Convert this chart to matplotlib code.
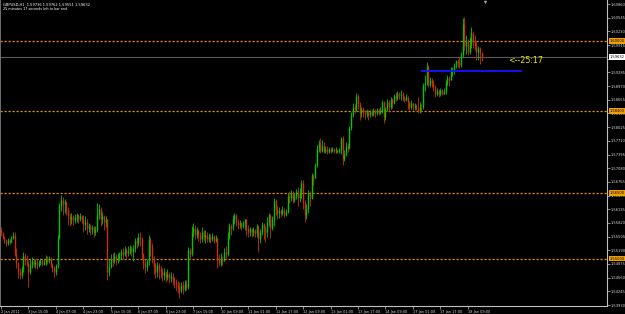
import matplotlib
matplotlib.use('Agg')
import matplotlib.pyplot as plt
import numpy as np

# GBPUSD H1, 2 Jan - 18 Jan 2011, prices in pips above 1.5000
base = 1.5
first_open = 566
close_pips = [558, 548, 540, 536, 542, 538, 548, 555, 510, 490, 470, 462, 478, 505, 498, 490, 470, 485, 495, 488,
              492, 485, 490, 496, 488, 493, 500, 495, 500, 486, 478, 470, 485, 548, 620, 635, 625, 630, 612, 598,
              590, 595, 588, 596, 600, 592, 598, 590, 580, 585, 570, 575, 568, 572, 560, 565, 600, 615, 590, 598,
              585, 592, 470, 480, 500, 495, 505, 498, 502, 508, 515, 510, 520, 512, 518, 525, 515, 525, 540, 535,
              550, 545, 510, 490, 480, 495, 545, 530, 500, 480, 470, 485, 475, 470, 462, 468, 458, 465, 455, 460,
              450, 445, 440, 432, 425, 438, 430, 442, 435, 520, 510, 560, 570, 555, 565, 555, 545, 560, 550, 555,
              545, 550, 545, 552, 540, 548, 500, 490, 500, 495, 515, 510, 550, 575, 570, 590, 600, 585, 578, 582,
              575, 580, 590, 570, 560, 568, 560, 565, 558, 575, 545, 560, 580, 570, 560, 585, 600, 570, 590, 632,
              615, 605, 610, 605, 612, 600, 608, 645, 640, 650, 635, 645, 655, 640, 650, 675, 630, 600, 615, 650,
              640, 690, 685, 715, 755, 765, 748, 760, 748, 752, 745, 752, 748, 753, 747, 750, 746, 749, 778, 730,
              740, 760, 755, 800, 830, 850, 845, 875, 855, 835, 845, 838, 832, 840, 830, 838, 832, 840, 835, 842,
              836, 840, 860, 825, 845, 860, 850, 868, 858, 875, 870, 880, 876, 880, 870, 865, 872, 860, 850, 858,
              848, 852, 845, 840, 850, 848, 900, 905, 940, 900, 910, 905, 895, 880, 885, 878, 888, 880, 886, 905,
              915, 910, 930, 935, 945, 955, 950, 945, 968, 1040, 990, 1000, 975, 995, 1020, 1000, 990, 975, 985, 974,
              963]
high_pips = [572, 562, 552, 545, 547, 546, 552, 560, 560, 525, 492, 478, 482, 515, 512, 508, 495, 500, 503, 500,
             500, 498, 497, 502, 500, 500, 508, 506, 506, 503, 490, 482, 488, 555, 628, 647, 642, 638, 632, 618,
             605, 605, 600, 602, 605, 603, 604, 600, 600, 598, 590, 582, 580, 578, 575, 575, 628, 625, 618, 607,
             600, 598, 592, 500, 510, 512, 515, 510, 512, 515, 522, 525, 528, 525, 530, 532, 530, 532, 548, 550,
             558, 561, 550, 512, 498, 500, 555, 550, 535, 505, 490, 492, 490, 482, 478, 478, 472, 475, 470, 468,
             466, 458, 452, 448, 445, 445, 448, 450, 450, 527, 525, 575, 582, 578, 572, 568, 560, 572, 565, 565,
             560, 558, 556, 558, 555, 555, 550, 510, 512, 505, 525, 530, 560, 582, 580, 600, 605, 603, 590, 588,
             585, 586, 592, 590, 578, 572, 570, 572, 568, 580, 578, 568, 584, 582, 575, 595, 605, 602, 598, 640,
             638, 622, 618, 615, 620, 616, 614, 651, 655, 658, 656, 652, 660, 665, 662, 681, 680, 635, 625, 658,
             655, 697, 695, 720, 762, 773, 778, 772, 768, 760, 758, 757, 756, 757, 755, 756, 752, 755, 780, 782,
             750, 768, 765, 806, 837, 858, 855, 881, 878, 860, 850, 848, 842, 845, 843, 842, 845, 846, 845, 847,
             846, 848, 865, 862, 850, 868, 865, 872, 870, 880, 883, 885, 883, 888, 884, 875, 878, 875, 862, 864,
             858, 858, 856, 872, 860, 856, 905, 922, 952, 945, 918, 915, 911, 900, 893, 890, 893, 890, 892, 910,
             922, 920, 941, 940, 950, 957, 960, 964, 975, 1054, 1056, 1015, 1005, 1010, 1033, 1025, 1015, 998, 990, 988,
             976]
low_pips = [552, 545, 536, 530, 532, 533, 535, 545, 505, 478, 455, 452, 455, 470, 485, 482, 435, 465, 478, 480,
            478, 476, 480, 485, 482, 484, 486, 488, 490, 480, 470, 458, 462, 478, 545, 610, 600, 605, 600, 578,
            575, 580, 578, 582, 585, 582, 586, 582, 560, 565, 556, 560, 555, 556, 550, 555, 560, 590, 575, 580,
            565, 572, 451, 460, 478, 482, 490, 485, 490, 495, 500, 500, 505, 498, 505, 510, 505, 495, 515, 525,
            530, 530, 500, 475, 467, 472, 485, 505, 490, 465, 455, 458, 452, 455, 448, 450, 445, 450, 444, 446,
            440, 432, 425, 420, 410, 420, 418, 425, 428, 430, 500, 505, 550, 545, 548, 540, 535, 538, 540, 535,
            538, 538, 536, 540, 536, 538, 479, 482, 482, 485, 497, 500, 505, 545, 555, 565, 580, 575, 568, 570,
            566, 570, 565, 552, 550, 552, 550, 552, 550, 550, 515, 535, 555, 545, 538, 550, 575, 548, 565, 575,
            600, 592, 594, 596, 600, 596, 598, 605, 628, 632, 628, 630, 638, 620, 630, 640, 615, 584, 590, 605,
            620, 636, 670, 685, 710, 745, 742, 745, 742, 743, 740, 743, 744, 745, 743, 744, 742, 743, 740, 716,
            725, 735, 745, 752, 795, 825, 835, 840, 845, 820, 825, 825, 822, 826, 820, 825, 828, 828, 825, 830,
            830, 832, 835, 812, 820, 840, 838, 845, 846, 855, 862, 865, 868, 866, 862, 860, 862, 845, 842, 845,
            842, 843, 842, 835, 836, 838, 845, 885, 900, 895, 895, 896, 885, 872, 875, 872, 874, 876, 878, 880,
            900, 898, 910, 920, 925, 938, 940, 938, 940, 965, 980, 970, 968, 970, 985, 985, 980, 958, 958, 948,
            955]

time_labels = ["2 Jan 2011", "3 Jan 15:00", "4 Jan 07:00", "4 Jan 23:00", "5 Jan 15:00", "6 Jan 07:00",
               "6 Jan 23:00", "7 Jan 15:00", "10 Jan 09:00", "11 Jan 01:00", "11 Jan 17:00", "12 Jan 09:00",
               "13 Jan 01:00", "13 Jan 17:00", "14 Jan 09:00", "17 Jan 01:00", "17 Jan 17:00", "18 Jan 09:00"]
bars_per_label = 16

price_ticks = [1.53930, 1.54245, 1.54560, 1.54875, 1.55190, 1.55505, 1.55820, 1.56135, 1.56450, 1.56765,
               1.57080, 1.57395, 1.57710, 1.58025, 1.58340, 1.58655, 1.58970, 1.59285, 1.59600, 1.59915,
               1.60230, 1.60545, 1.60860]

levels = [1.60000, 1.58400, 1.56500, 1.55000]   # orange horizontal lines
bid = 1.59632
blue_level = 1.59318
blue_from, blue_to = 244.5, 303.5
timer_text = "<--25:17"
timer_x, timer_y = 295.5, 1.5957
shift_bar = 282
title1 = "GBPUSD,H1  1.59736 1.59762 1.59551 1.59632"
title2 = "25 minutes 17 seconds left to bar end"

c = base + np.array(close_pips) / 1e4
h = base + np.array(high_pips) / 1e4
l = base + np.array(low_pips) / 1e4
o = np.concatenate([[base + first_open / 1e4], c[:-1]])
x = np.arange(len(c))
up = c >= o

fig = plt.figure(figsize=(6.25, 3.14), dpi=100, facecolor='black')
ax = fig.add_axes([0, 8 / 314, 607 / 625, 306 / 314], facecolor='black')

for lev in levels:
    ax.axhline(lev, color='#e08800', lw=0.9, ls=(0, (1.8, 1.4)), zorder=1)
ax.axhline(bid, color='#5a5a5a', lw=0.8, zorder=1)

green, red = '#00c800', '#c83200'
cols = np.where(up, green, red)
ax.vlines(x, l, h, colors=cols, lw=0.6, zorder=2)
ax.vlines(x, np.minimum(o, c), np.maximum(o, c), colors=cols, lw=1.0, zorder=2)

ax.hlines(blue_level, blue_from, blue_to, color='#1414ff', lw=1.3, zorder=3)
ax.text(timer_x, timer_y, timer_text, color='#e8e800', fontsize=5.7, va='center', ha='left')

# chart shift marker at the top edge
ax.plot([shift_bar], [0.995], marker='v', ms=2.5, color='#a0a0a0', mec='none',
        transform=ax.get_xaxis_transform(), clip_on=False)

ax.set_xlim(-0.583, 353.1)
ax.set_ylim(1.53907, 1.60953)

ax.set_xticks(x[::bars_per_label][:len(time_labels)])
ax.set_xticklabels(time_labels, ha='left')
ax.yaxis.tick_right()
ax.set_yticks(price_ticks)
# the tick under the current-price marker is covered in the terminal
ax.set_yticklabels(['' if abs(p - bid) < 0.001 else '%.5f' % p for p in price_ticks])
ax.tick_params(axis='x', length=2, width=0.5, color='#c0c0c0', pad=0.6, labelsize=2.5, labelcolor='#d8d8d8')
ax.tick_params(axis='y', length=2, width=0.5, color='#c0c0c0', pad=0.8, labelsize=2.6, labelcolor='#d8d8d8')

for side in ['right', 'bottom']:
    ax.spines[side].set_color('#c0c0c0')
    ax.spines[side].set_linewidth(0.8)
ax.spines['left'].set_color('#808080')
ax.spines['left'].set_linewidth(1.2)
ax.spines['top'].set_visible(False)

lab_kw = dict(transform=ax.get_yaxis_transform(), fontsize=2.6, va='center', ha='left',
              color='black', clip_on=False, zorder=5)
for lev in levels:
    ax.text(1.004, lev, '%.5f' % lev, bbox=dict(boxstyle='square,pad=0.25', fc='#f0a000', ec='none'), **lab_kw)
ax.text(1.004, bid, '%.5f' % bid, bbox=dict(boxstyle='square,pad=0.25', fc='white', ec='none'), **lab_kw)

fig.text(3 / 625, 1 - 2.5 / 314, title1, color='white', fontsize=2.6, va='top', ha='left')
fig.text(3 / 625, 1 - 7 / 314, title2, color='white', fontsize=2.4, va='top', ha='left')

fig.savefig('out.png', dpi=100, facecolor='black')
